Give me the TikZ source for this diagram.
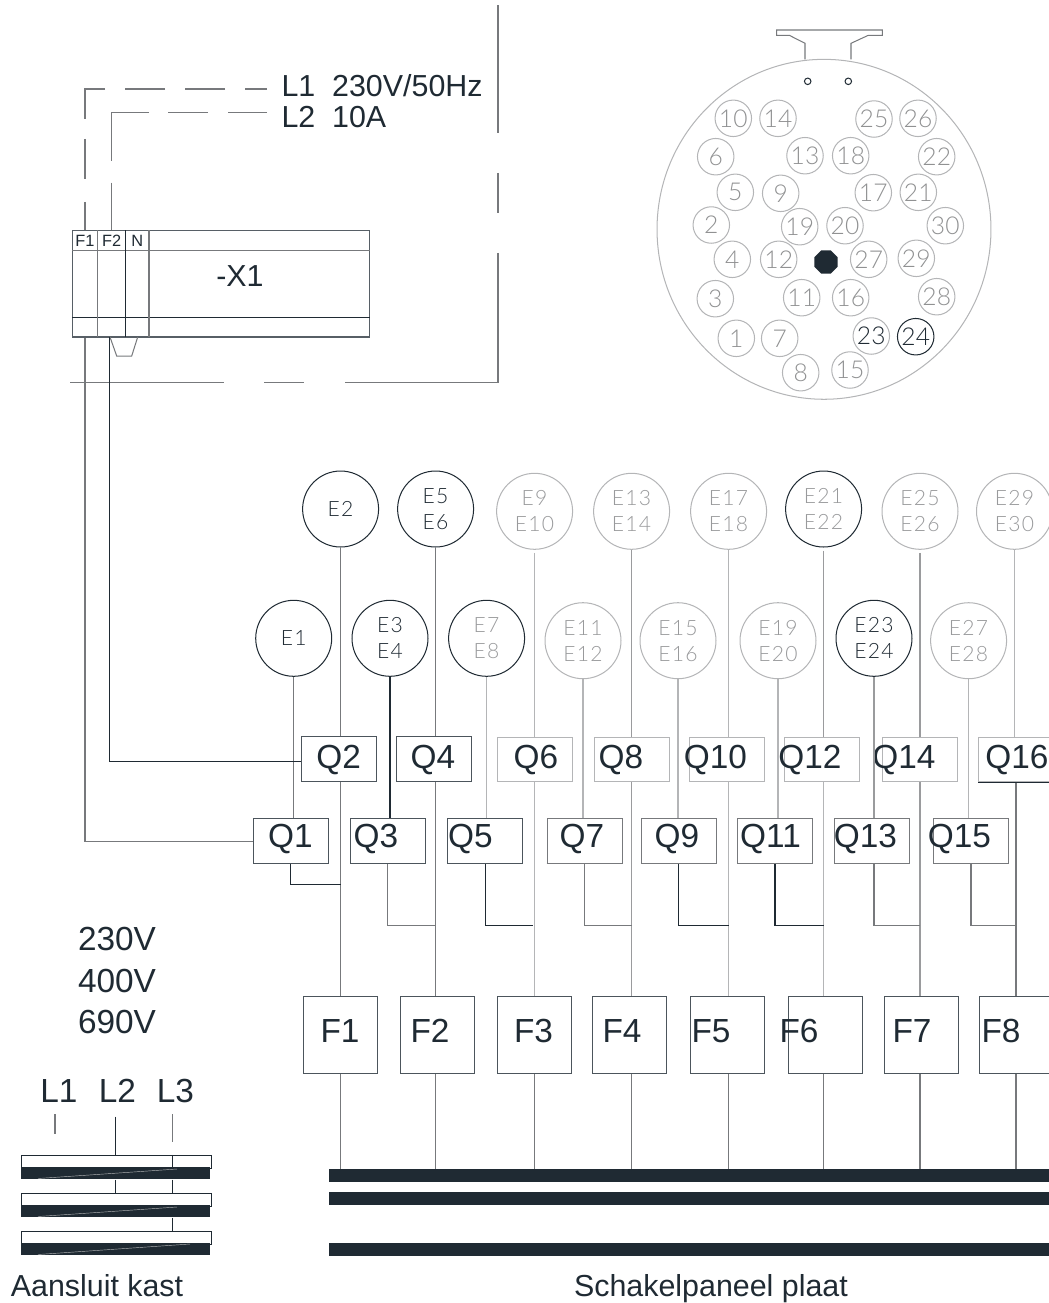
\documentclass[tikz,border=0pt]{standalone}
\usepackage{fontspec}
\setmainfont{Liberation Sans}
\newfontfamily\isofont[LetterSpace=6]{Lato Light}
\newfontfamily\pinfont[LetterSpace=1]{Lato Light}
\usetikzlibrary{positioning, shapes.geometric}
\definecolor{ink}{HTML}{1F2A33}
\definecolor{midgray}{HTML}{77797C}
\definecolor{palegray}{HTML}{9A9B9D}
\definecolor{softgray}{HTML}{B4B5B7}

\begin{document}
\begin{tikzpicture}[
	x=.02cm, y=-.02cm,
	line width=.58pt,
	every node/.style={inner sep=0, text=ink},
	wire/.style={draw=ink},
	midwire/.style={draw=midgray},
	palewire/.style={draw=palegray},
	softwire/.style={draw=softgray},
	txt/.style={anchor=base west, font=\fontsize{17.3}{20}\selectfont},
	midtxt/.style={anchor=base, font=\fontsize{17.3}{20}\selectfont},
	bigtxt/.style={anchor=base, font=\fontsize{19}{22}\selectfont},
	cell/.style={font=\fontsize{9.3}{11}\selectfont, text=ink},
	qbox/.style={rectangle, draw=midgray, minimum width=1.5cm, minimum height=.89cm},
	softq/.style={qbox, draw=softgray},
	darkq/.style={qbox, draw=ink!80},
	fbox/.style={rectangle, draw=ink!80, minimum width=1.48cm, minimum height=1.54cm},
	lamp/.style={circle, draw=ink, minimum size=1.52cm, align=center, font=\isofont\fontsize{12}{14.8}\selectfont},
	softlamp/.style={lamp, draw=softgray, text=softgray!85!black},
	mixlamp/.style={lamp, text=softgray!85!black},
	pin/.style={circle, draw=softgray, text=softgray!80!black, minimum size=.73cm, font=\pinfont\fontsize{14}{15}\selectfont},
	busbar/.style={rectangle, fill=ink, draw=ink, minimum width=14.4cm, minimum height=.24cm},
	rail/.style={rectangle, fill=white, draw=ink, minimum width=3.8cm, minimum height=.26cm},
	railbar/.style={rectangle, fill=ink, minimum width=3.78cm, minimum height=.24cm},
	streak/.style={draw=softgray, line width=.25pt}
	]

\useasboundingbox (0,0) rectangle (1049,1303);

% Supply
\coordinate (L1 end) at (267,89);
\coordinate (L2 end) at (267,112);
\node [txt] (L1) at (281,96) {L1~~230V/50Hz};
\node [txt] (L2) at (281,127.7) {L2~~10A};

% Frame
\coordinate (frame top) at (498,5);
\coordinate (frame corner) at (498,382.5);
\coordinate (frame end) at (70,382.5);
\draw[midwire, dash pattern=on 2.56cm off .8cm on .8cm off .8cm on 5.66cm off .82cm on .8cm off .8cm on 3.1cm] (frame top) -- (frame corner) -- (frame end);

% Terminal block
\node [rectangle, draw=ink!75, minimum width=5.96cm, minimum height=2.14cm] (X1) at (221,283.5) {};
\node [midtxt] (X1 text) at (240,286) {-X1};
\node [cell] (F1 cell) at (85,240.5) {F1};
\node [cell] (F2 cell) at (111.7,240.5) {F2};
\node [cell] (N cell) at (137.2,240.5) {N};
\draw[midwire] (72.3,250) -- (370,250);
\draw[wire] (72.3,317.5) -- (370,317.5);
\draw[midwire] (97.7,230) -- (97.7,337);
\draw[wire] (125.5,230) -- (125.5,337);
\draw[midwire] (149,230) -- (149,337);
\draw[midwire] (110,337) -- (116.7,356) -- (131.7,356) -- (137.7,337);

\draw[midwire, dash pattern=on .44cm off .4cm on .8cm off .4cm on .8cm off .4cm on 1cm off .4cm on .8cm off .46cm on .58cm] (L1 end) -| (F1 cell |- X1.north);
\draw[midwire, dash pattern=on .78cm off .4cm on .8cm off .38cm on 1.72cm off .44cm on .96cm] (L2 end) -| (F2 cell |- X1.north);

% Lamps upper row
\node [lamp] (E2) at (340.6,509) {E2};
\node [lamp] (E5) at (435.6,509) {E5\\E6};
\node [softlamp] (E9) at (534.6,511.3) {E9\\E10};
\node [softlamp] (E13) at (631.6,511.3) {E13\\E14};
\node [softlamp] (E17) at (728.6,511.3) {E17\\E18};
\node [mixlamp] (E21) at (823.6,509) {E21\\E22};
\node [softlamp] (E25) at (920,511.3) {E25\\E26};
\node [softlamp] (E29) at (1014.5,511.3) {E29\\E30};

% Lamps lower row
\node [lamp] (E1) at (293.7,638.3) {E1};
\node [lamp] (E3) at (390,638.3) {E3\\E4};
\node [mixlamp] (E7) at (486.6,638.3) {E7\\E8};
\node [softlamp] (E11) at (583,640.7) {E11\\E12};
\node [softlamp] (E15) at (678,640.7) {E15\\E16};
\node [softlamp] (E19) at (778,640.7) {E19\\E20};
\node [lamp] (E23) at (874,638.3) {E23\\E24};
\node [softlamp] (E27) at (968.6,640.7) {E27\\E28};

% Switches upper row
\node [darkq] (Q2) at (338.7,759) {};
\node [darkq] (Q4) at (434.3,759) {};
\node [softq] (Q6) at (534.8,759.5) {};
\node [softq] (Q8) at (631.8,759.5) {};
\node [softq] (Q10) at (726.7,759.5) {};
\node [softq] (Q12) at (821.8,759.5) {};
\node [softq] (Q14) at (920.2,759.5) {};
\node [softq] (Q16) at (1016,759.5) {};
\node [bigtxt] (Q2 text) at (338.7,768) {Q2};
\node [bigtxt] (Q4 text) at (433,768) {Q4};
\node [bigtxt] (Q6 text) at (536,768) {Q6};
\node [bigtxt] (Q8 text) at (621,768) {Q8};
\node [bigtxt] (Q10 text) at (715.5,768) {Q10};
\node [bigtxt] (Q12 text) at (810,768) {Q12};
\node [bigtxt] (Q14 text) at (904,768) {Q14};
\node [bigtxt] (Q16 text) at (1017,768) {Q16};

% Switches lower row
\node [darkq] (Q1) at (290.8,841) {};
\node [darkq] (Q3) at (387.7,841) {};
\node [darkq] (Q5) at (485.3,841) {};
\node [qbox] (Q7) at (584.7,841) {};
\node [qbox] (Q9) at (678.8,841) {};
\node [qbox] (Q11) at (775,841) {};
\node [qbox] (Q13) at (872,841) {};
\node [qbox] (Q15) at (971,841) {};
\node [bigtxt] (Q1 text) at (290.5,847) {Q1};
\node [bigtxt] (Q3 text) at (376,847) {Q3};
\node [bigtxt] (Q5 text) at (470.5,847) {Q5};
\node [bigtxt] (Q7 text) at (582,847) {Q7};
\node [bigtxt] (Q9 text) at (677,847) {Q9};
\node [bigtxt] (Q11 text) at (770.5,847) {Q11};
\node [bigtxt] (Q13 text) at (865.5,847) {Q13};
\node [bigtxt] (Q15 text) at (959.5,847) {Q15};

% Fuses
\node [fbox] (F1) at (340.3,1035) {};
\node [fbox] (F2) at (437.7,1035) {};
\node [fbox] (F3) at (534.3,1035) {};
\node [fbox] (F4) at (629.3,1035) {};
\node [fbox] (F5) at (727.7,1035) {};
\node [fbox] (F6) at (825.3,1035) {};
\node [fbox] (F7) at (921.7,1035) {};
\node [fbox] (F8) at (1016.7,1035) {};
\node [bigtxt] (F1 text) at (340,1042) {F1};
\node [bigtxt] (F2 text) at (430,1042) {F2};
\node [bigtxt] (F3 text) at (533.5,1042) {F3};
\node [bigtxt] (F4 text) at (622,1042) {F4};
\node [bigtxt] (F5 text) at (711,1042) {F5};
\node [bigtxt] (F6 text) at (799,1042) {F6};
\node [bigtxt] (F7 text) at (912,1042) {F7};
\node [bigtxt] (F8 text) at (1001,1042) {F8};

% Bus bars
\node [busbar] (bus1) at (689,1175.3) {};
\node [busbar] (bus2) at (689,1198.6) {};
\node [busbar] (bus3) at (689,1249.3) {};

% Lamps to switches
\draw[midwire] (E2) -- (E2 |- Q2.north);
\draw[midwire] (E5) -- (E5 |- Q4.north);
\draw[softwire] (E9.south) ++(0,3) -- (E9 |- Q6.north);
\draw[palewire] (E13) -- (E13 |- Q8.north);
\draw[softwire] (E17) -- (E17 |- Q10.north);
\draw[palewire] (E21.south) ++(0,3) -- (E21 |- Q12.north);
\draw[palewire] (E25.south) ++(0,3) -- (E25 |- Q14.north);
\draw[softwire] (E29) -- (E29 |- Q16.north);
\draw[midwire] (E1) -- (E1 |- Q1.north);
\draw[wire] (E3) -- (E3 |- Q3.north);
\draw[softwire] (E7) -- (E7 |- Q5.north);
\draw[softwire] (E11) -- (E11 |- Q7.north);
\draw[softwire] (E15) -- (E15 |- Q9.north);
\draw[softwire] (E19) -- (E19 |- Q11.north);
\draw[palewire] (E23) -- (E23 |- Q13.north);
\draw[softwire] (E27) -- (E27 |- Q15.north);

% Switches to fuses
\draw[midwire] (E2 |- Q2.south) -- (E2 |- F1.north);
\draw[midwire] (E5 |- Q4.south) -- (E5 |- F2.north);
\draw[softwire] (E9 |- Q6.south) -- (E9 |- F3.north);
\draw[palewire] (E13 |- Q8.south) -- (E13 |- F4.north);
\draw[softwire] (E17 |- Q10.south) -- (E17 |- F5.north);
\draw[softwire] (E21 |- Q12.south) -- (E21 |- F6.north);
\draw[palewire] (E25 |- Q14.south) -- (E25 |- F7.north);
\draw[midwire] (Q16.south) -- (Q16.south |- F8.north);

% Lower row taps
\coordinate (tap1) at (340.6,884.3);
\coordinate (tap3) at (435.6,925.7);
\coordinate (tap5) at (533.3,925.7);
\coordinate (tap7) at (631.6,925.7);
\coordinate (tap9) at (728.6,925.7);
\coordinate (tap11) at (823.6,925.7);
\coordinate (tap13) at (920,925.7);
\coordinate (tap15) at (1016,925.7);
\draw[wire] (Q1.south) |- (tap1);
\draw[midwire] (Q3.south) |- (tap3);
\draw[wire] (Q5.south) |- (tap5);
\draw[midwire] (Q7.south) |- (tap7);
\draw[wire] (Q9.south) |- (tap9);
\draw[wire] (Q11.south) |- (tap11);
\draw[midwire] (E23 |- Q13.south) |- (tap13);
\draw[midwire] (Q15.south) |- (tap15);

% Dark lower edges
\draw[midwire] (Q7.south west) -- (Q7.south east);
\draw[midwire] (Q9.south west) -- (Q9.south east);
\draw[midwire] (Q11.south west) -- (Q11.south east);
\draw[midwire] (Q13.south west) -- (Q13.south east);
\draw[midwire] (Q15.south west) -- (Q15.south east);
\draw[wire] (Q16.south west) -- (Q16.south east);

% Fuses to bus
\draw[midwire] (E2 |- F1.south) -- (E2 |- bus1.north);
\draw[midwire] (E5 |- F2.south) -- (E5 |- bus1.north);
\draw[midwire] (E9 |- F3.south) -- (E9 |- bus1.north);
\draw[midwire] (E13 |- F4.south) -- (E13 |- bus1.north);
\draw[midwire] (E17 |- F5.south) -- (E17 |- bus1.north);
\draw[midwire] (E21 |- F6.south) -- (E21 |- bus1.north);
\draw[midwire] (E25 |- F7.south) -- (E25 |- bus1.north);
\draw[midwire] (Q16.south |- F8.south) -- (Q16.south |- bus1.north);

% Feeds from terminal block
\coordinate (X1 out2) at (109.3,337);
\draw[midwire] (F1 cell |- X1.south) |- (Q1.west);
\draw[wire] (X1 out2) |- ([yshift=-.04cm]Q2.west);

% Voltage
\node [bigtxt] (U1) at (117,950) {230V};
\node [bigtxt] (U2) at (117,992) {400V};
\node [bigtxt] (U3) at (117,1033) {690V};

% Connection cabinet
\node [bigtxt] (R1) at (59,1102) {L1};
\node [bigtxt] (R2) at (117.5,1102) {L2};
\node [bigtxt] (R3) at (175.5,1102) {L3};
\node [rail] (rail1) at (116.3,1161.8) {};
\node [railbar] (rail1 bar) at (115.5,1173) {};
\node [rail] (rail2) at (116.3,1199.8) {};
\node [railbar] (rail2 bar) at (115.5,1211) {};
\node [rail] (rail3) at (116.3,1237.6) {};
\node [railbar] (rail3 bar) at (115.5,1249) {};
\draw[streak] (38,1178.5) -- (177,1169);
\draw[streak] (38,1216.5) -- (177,1207);
\draw[streak] (38,1254.5) -- (190,1244);

\coordinate (T1) at (55,1114);
\coordinate (T1 end) at (55,1134);
\coordinate (T2) at (115.5,1116.7);
\coordinate (T3) at (172.5,1114);
\coordinate (T3 end) at (172.5,1142);
\draw[midwire] (T1) -- (T1 end);
\draw[wire] (T2) -- (T2 |- rail1.north);
\draw[midwire] (T3) -- (T3 end);
\draw[wire] (T3 |- rail1.north) -- (T3 |- rail1.south);
\draw[wire] (T2 |- rail1 bar.south) -- (T2 |- rail2.north);
\draw[wire] (T3 |- rail1 bar.south) -- (T3 |- rail2.north);
\draw[wire] (T3 |- rail2 bar.south) -- (T3 |- rail3.north);

% Captions
\node [midtxt] (caption left) at (97,1296) {Aansluit kast};
\node [midtxt] (caption right) at (711,1296) {Schakelpaneel plaat};

% Connector plate
\node [ellipse, draw=softgray, minimum width=6.68cm, minimum height=6.8cm] (plate) at (824,229.3) {};
\coordinate (lug left) at (805,59.3);
\coordinate (lug right) at (851,59.3);
\draw[midwire] (lug left) -- (805,43.3) -- (789.3,35.3) -- (776.7,35.3) -- (776.7,30) -- (882.3,30) -- (882.3,35.3) -- (868.3,35.3) -- (851,43.3) -- (lug right);
\node [circle, draw=ink, minimum size=.13cm] (hole1) at (807.7,81.3) {};
\node [circle, draw=ink, minimum size=.13cm] (hole2) at (848.3,81.3) {};
\node [regular polygon, regular polygon sides=8, fill=ink, minimum size=.5cm] (centre) at (826,262) {};

\node [pin] (P10) at (733.3,118.3) {10};
\node [pin] (P14) at (778,118.3) {14};
\node [pin] (P25) at (874,119) {25};
\node [pin] (P26) at (918,118.3) {26};
\node [pin] (P6) at (715.7,156.7) {6};
\node [pin] (P13) at (805,155.7) {13};
\node [pin] (P18) at (850.7,155.7) {18};
\node [pin] (P22) at (936.7,156.7) {22};
\node [pin] (P5) at (735.3,192.3) {5};
\node [pin] (P9) at (780.7,193.3) {9};
\node [pin] (P17) at (873.3,192.7) {17};
\node [pin] (P21) at (918.3,192.3) {21};
\node [pin] (P2) at (711.3,225) {2};
\node [pin] (P19) at (799.7,226.7) {19};
\node [pin] (P20) at (845,225.7) {20};
\node [pin] (P30) at (945.3,225.7) {30};
\node [pin] (P4) at (732.3,259.3) {4};
\node [pin] (P12) at (778.7,259.3) {12};
\node [pin] (P27) at (868.7,259.3) {27};
\node [pin] (P29) at (916.3,258.3) {29};
\node [pin] (P3) at (715.3,298.7) {3};
\node [pin] (P11) at (801.7,297.7) {11};
\node [pin] (P16) at (850.7,297.7) {16};
\node [pin] (P28) at (936.7,296.7) {28};
\node [pin] (P1) at (736.3,338.3) {1};
\node [pin] (P7) at (779.7,338.3) {7};
\node [pin, text=ink] (P23) at (871.3,336) {23};
\node [pin, draw=ink, text=ink] (P24) at (915.7,336.7) {24};
\node [pin] (P8) at (800.7,372.7) {8};
\node [pin] (P15) at (850,370) {15};

\end{tikzpicture}
\end{document}
